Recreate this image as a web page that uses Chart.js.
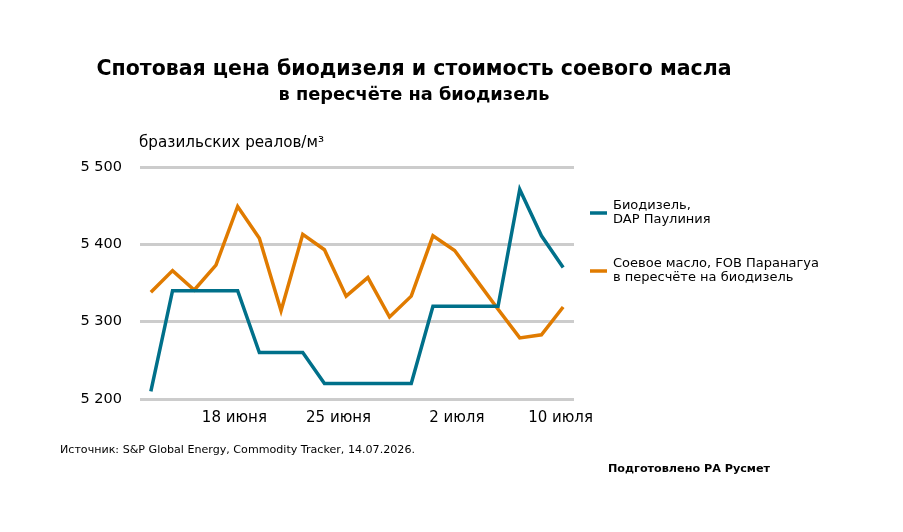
<!DOCTYPE html>
<html><head><meta charset="utf-8">
<script src="https://cdn.jsdelivr.net/npm/chart.js@4"></script>
<style>html,body{margin:0;padding:0;background:#fff}canvas{display:block}</style>
</head><body>
<canvas id="c" width="903" height="532"></canvas>
<script>
const points = [0,1,2,3,4,5,6,7,8,9,10,11,12,13,14,15,16,17,18,19];
const biodiesel = [5210,5340,5340,5340,5340,5260,5260,5260,5220,5220,5220,5220,5220,5320,5320,5320,5320,5471,5411,5370];
const soyOil = [5338,5366,5341,5373,5449,5408,5314,5413,5393,5333,5357,5306,5333,5411,5392,5354,5316,5279,5283,5319];
const xTickPositions = [3.85, 8.65, 14.1, 18.88];
const xTickLabels = ['18 июня','25 июня','2 июля','10 июля'];
const yTicks = [5200,5300,5400,5500];
const seriesNames = [['Биодизель,','DAP Паулиния'],['Соевое масло, FOB Паранагуа','в пересчёте на биодизель']];
const titleText = 'Спотовая цена биодизеля и стоимость соевого масла';
const subtitleText = 'в пересчёте на биодизель';
const unitText = 'бразильских реалов/м³';
const sourceText = 'Источник: S&P Global Energy, Commodity Tracker, 14.07.2026.';
const creditText = 'Подготовлено РА Русмет';

const BLUE = '#00708a', ORANGE = '#e07b00';
const FONT = '"DejaVu Sans", sans-serif';

const textPlugin = {
  id: 'texts',
  afterDraw(chart) {
    const ctx = chart.ctx;
    ctx.save();
    ctx.fillStyle = '#000';
    ctx.textBaseline = 'middle';
    ctx.textAlign = 'center';
    ctx.font = 'bold 20.5px ' + FONT;
    ctx.fillText(titleText, 414, 70);
    ctx.font = 'bold 17.8px ' + FONT;
    ctx.fillText(subtitleText, 414, 95);
    ctx.textAlign = 'left';
    ctx.font = '15.2px ' + FONT;
    ctx.fillText(unitText, 139, 143);
    // legend
    const colors = [BLUE, ORANGE];
    const ys = [213, 271];
    chart.data.datasets.forEach((ds, i) => {
      ctx.strokeStyle = colors[i];
      ctx.lineWidth = 3.5;
      ctx.beginPath();
      ctx.moveTo(590, ys[i]);
      ctx.lineTo(607, ys[i]);
      ctx.stroke();
      ctx.font = '13px ' + FONT;
      ctx.fillStyle = '#000';
      const lines = seriesNames[i];
      ctx.fillText(lines[0], 613, ys[i] - 7);
      ctx.fillText(lines[1], 613, ys[i] + 7);
    });
    ctx.font = '11.1px ' + FONT;
    ctx.fillText(sourceText, 60, 450);
    ctx.font = 'bold 11.2px ' + FONT;
    ctx.fillText(creditText, 608, 469);
    ctx.restore();
  }
};

new Chart(document.getElementById('c'), {
  type: 'line',
  data: {
    datasets: [
      { label: seriesNames[0].join(' '), data: points.map((p,i)=>({x:p,y:biodiesel[i]})), borderColor: BLUE, borderWidth: 3.5, pointRadius: 0, tension: 0, fill: false },
      { label: seriesNames[1].join(' '), data: points.map((p,i)=>({x:p,y:soyOil[i]})), borderColor: ORANGE, borderWidth: 3.5, pointRadius: 0, tension: 0, fill: false }
    ]
  },
  options: {
    responsive: false,
    animation: false,
    devicePixelRatio: 1,
    layout: { padding: { left: 0, right: 329, top: 167, bottom: 0 } },
    plugins: { legend: { display: false }, tooltip: { enabled: false }, title: { display: false } },
    scales: {
      x: {
        type: 'linear', min: -0.5, max: 19.5,
        afterBuildTicks: (axis) => { axis.ticks = xTickPositions.map(v => ({ value: v })); },
        afterFit: (axis) => { axis.height = 133; },
        grid: { display: false, drawTicks: false },
        border: { display: false },
        ticks: { autoSkip: false, maxRotation: 0, padding: 10, color: '#000', font: { family: FONT, size: 15 },
          callback: (v, i) => xTickLabels[i] }
      },
      y: {
        min: 5200, max: 5500,
        afterBuildTicks: (axis) => { axis.ticks = yTicks.map(v => ({ value: v })); },
        afterFit: (axis) => { axis.width = 140; },
        grid: { color: '#cccccc', lineWidth: 3, drawTicks: false },
        border: { display: false },
        ticks: { padding: 18, color: '#000', font: { family: FONT, size: 14.5 },
          callback: (v) => String(v).replace(/\B(?=(\d{3})+(?!\d))/g, ' ') }
      }
    }
  },
  plugins: [textPlugin]
});
</script>
</body></html>
